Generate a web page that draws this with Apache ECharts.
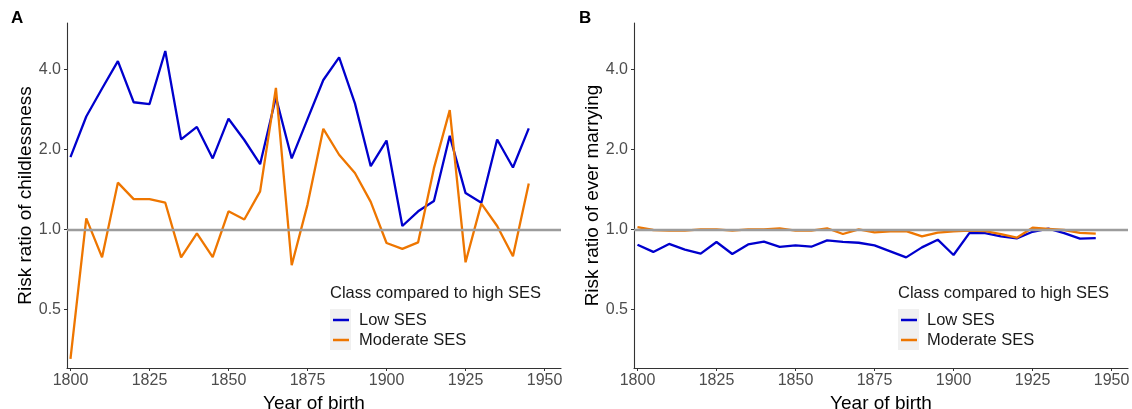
<!DOCTYPE html>
<html>
<head>
<meta charset="utf-8">
<script src="https://cdn.jsdelivr.net/npm/echarts@6/dist/echarts.min.js"></script>
<style>
html,body{margin:0;padding:0;background:#fff;}
#c{width:1132px;height:409px;}
</style>
</head>
<body>
<div id="c"></div>
<script>
const years = [1800,1805,1810,1815,1820,1825,1830,1835,1840,1845,1850,1855,1860,1865,1870,1875,1880,1885,1890,1895,1900,1905,1910,1915,1920,1925,1930,1935,1940,1945];
const lowChildless = [1.87,2.66,3.39,4.30,3.01,2.96,4.69,2.18,2.43,1.85,2.61,2.17,1.76,3.14,1.85,2.60,3.65,4.44,2.98,1.73,2.16,1.03,1.17,1.28,2.25,1.37,1.26,2.18,1.71,2.40];
const modChildless = [0.326,1.10,0.785,1.50,1.30,1.30,1.26,0.785,0.966,0.787,1.17,1.09,1.39,3.41,0.733,1.24,2.39,1.91,1.63,1.27,0.889,0.845,0.894,1.70,2.81,0.752,1.25,1.03,0.792,1.49];
const lowMarrying = [0.876,0.823,0.882,0.839,0.811,0.897,0.808,0.878,0.899,0.859,0.871,0.861,0.909,0.897,0.891,0.871,0.827,0.785,0.856,0.915,0.801,0.969,0.969,0.942,0.925,0.980,1.006,0.969,0.923,0.928];
const modMarrying = [1.02,0.995,0.99,0.99,1.0,1.0,0.99,1.0,1.0,1.01,0.99,0.99,1.01,0.961,1.0,0.974,0.983,0.985,0.941,0.972,0.983,0.99,0.985,0.96,0.931,1.015,1.005,0.995,0.97,0.965];
const yTicks = [0.5,1.0,2.0,4.0];
const xTicks = [1800,1825,1850,1875,1900,1925,1950];
const seriesNames = ['Low SES','Moderate SES'];
const colors = ['#0000cd','#ee7600'];

const FONT = "'Liberation Sans', Arial, sans-serif";
const yMin = Math.log2(0.301), yMax = Math.log2(5.98);
const grids = [
  {left: 67, top: 23, width: 494, height: 345, outerBoundsMode:'none', containLabel:false},
  {left: 634, top: 23, width: 494, height: 345, outerBoundsMode:'none', containLabel:false}
];
const yNames = ['Risk ratio of childlessness','Risk ratio of ever marrying'];
const data = [[lowChildless, modChildless],[lowMarrying, modMarrying]];

function pts(arr){ return years.map((y,i)=>[y, Math.log2(arr[i])]); }

const xAxis = grids.map((g,i)=>({
  type:'value', gridIndex:i, min:1798.9, max:1955.2,
  name:'Year of birth', nameLocation:'middle', nameGap:24,
  nameTextStyle:{fontFamily:FONT, fontSize:19, color:'#000'},
  axisLine:{onZero:false, lineStyle:{color:'#333', width:1.1}},
  axisTick:{show:true, length:3, customValues:xTicks, lineStyle:{color:'#333'}},
  axisLabel:{customValues:xTicks, fontFamily:FONT, fontSize:16, color:'#4d4d4d', margin:5,
    formatter: v => String(Math.round(v))},
  splitLine:{show:false}
}));
const yAxis = grids.map((g,i)=>({
  type:'value', gridIndex:i, min:yMin, max:yMax,
  name:yNames[i], nameLocation:'middle', nameGap:32,
  nameTextStyle:{fontFamily:FONT, fontSize:19, color:'#000'},
  axisLine:{show:true, onZero:false, lineStyle:{color:'#333', width:1.1}},
  axisTick:{show:true, length:3, customValues:yTicks.map(Math.log2), lineStyle:{color:'#333'}},
  axisLabel:{customValues:yTicks.map(Math.log2), fontFamily:FONT, fontSize:16, color:'#4d4d4d', margin:6,
    formatter: v => Math.pow(2,v).toFixed(1)},
  splitLine:{show:false}
}));

const series = [];
data.forEach((pair,gi)=>{
  pair.forEach((arr,si)=>{
    const s = {
      type:'line', name:seriesNames[si], xAxisIndex:gi, yAxisIndex:gi,
      data: pts(arr), symbol:'none', color:colors[si],
      lineStyle:{width:2.3, color:colors[si]}, z:2, animation:false
    };
    if (si === 1) {
      s.markLine = {symbol:'none', silent:true, animation:false, z:5,
        label:{show:false},
        lineStyle:{color:'#9c9c9c', width:2.3, type:'solid'},
        data:[{yAxis:0}]};
    }
    series.push(s);
  });
});

const legendLefts = [333, 901];
const legend = legendLefts.map(l=>({
  left:l, top:310, orient:'vertical', data:seriesNames, padding:0,
  icon:'rect', itemWidth:16, itemHeight:2.5, itemGap:0, selectedMode:false,
  textStyle:{fontFamily:FONT, fontSize:16.5, lineHeight:20, color:'#1a1a1a', padding:[0,0,0,5]}
}));

const graphic = [
  {type:'rect', shape:{x:330, y:309, width:21, height:41}, style:{fill:'#f0f0f0'}, z:-1},
  {type:'rect', shape:{x:898, y:309, width:21, height:41}, style:{fill:'#f0f0f0'}, z:-1},
  {type:'text', x:330, y:293, style:{text:'Class compared to high SES', font:"16.5px "+FONT, fill:'#1a1a1a', verticalAlign:'middle'}},
  {type:'text', x:898, y:293, style:{text:'Class compared to high SES', font:"16.5px "+FONT, fill:'#1a1a1a', verticalAlign:'middle'}},
  {type:'text', x:11, y:18, style:{text:'A', font:"bold 17px "+FONT, fill:'#000', verticalAlign:'middle'}},
  {type:'text', x:579, y:18, style:{text:'B', font:"bold 17px "+FONT, fill:'#000', verticalAlign:'middle'}}
];

const chart = echarts.init(document.getElementById('c'), null, {renderer:'canvas'});
chart.setOption({
  backgroundColor:'#fff',
  animation:false,
  grid:grids, xAxis, yAxis, series, legend, graphic
});
</script>
</body>
</html>
